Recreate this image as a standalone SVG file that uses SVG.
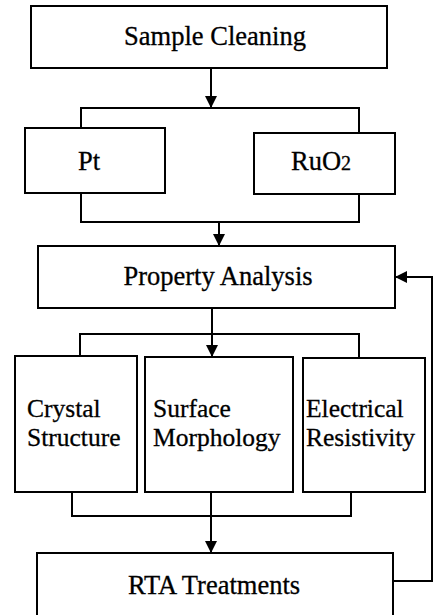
<svg xmlns="http://www.w3.org/2000/svg" width="433" height="615" viewBox="0 0 433 615">
<style>
.box{fill:#fff;stroke:#000;stroke-width:2}
.ln{fill:none;stroke:#000;stroke-width:2}
text{font-family:"Liberation Serif","Times New Roman",serif;font-size:26.5px;fill:#000;stroke:#000;stroke-width:0.3}
.c{text-anchor:middle}
.s{font-size:25.5px}
</style>
<defs>
<marker id="ah" markerUnits="userSpaceOnUse" markerWidth="12" markerHeight="12" refX="12" refY="6" orient="auto">
<path d="M0,0 L12,6 L0,12 z" fill="#000"/>
</marker>
</defs>
<rect x="0" y="0" width="433" height="615" fill="#fff"/>
<g id="connectors">
<path class="ln" d="M211,68 V108" marker-end="url(#ah)"/>
<path class="ln" d="M81,128 V108 H359 V133"/>
<path class="ln" d="M81,193 V222 H359 V194"/>
<path class="ln" d="M219,222 V246" marker-end="url(#ah)"/>
<path class="ln" d="M212,308 V357" marker-end="url(#ah)"/>
<path class="ln" d="M80,356 V334 H359 V358"/>
<path class="ln" d="M72,492 V516 H351 V492"/>
<path class="ln" d="M211,492 V516"/>
<path class="ln" d="M211,516 V553" marker-end="url(#ah)"/>
<path class="ln" d="M393,581 H432 V277 H395" marker-end="url(#ah)"/>
</g>
<g id="sample-cleaning">
<rect class="box" x="31" y="6" width="356" height="62"/>
<text class="c" x="215" y="45">Sample Cleaning</text>
</g>
<g id="pt">
<rect class="box" x="25" y="128" width="140" height="65"/>
<text class="c" x="89" y="170">Pt</text>
</g>
<g id="ruo2">
<rect class="box" x="254" y="133" width="141" height="61"/>
<text class="c" x="321" y="170">RuO<tspan font-size="20">2</tspan></text>
</g>
<g id="property-analysis">
<rect class="box" x="38" y="246" width="357" height="62"/>
<text class="c" x="218" y="285">Property Analysis</text>
</g>
<g id="crystal-structure">
<rect class="box" x="15" y="356" width="122" height="136"/>
<text class="s" x="27" y="417">Crystal</text>
<text class="s" x="27" y="446">Structure</text>
</g>
<g id="surface-morphology">
<rect class="box" x="145" y="357" width="148" height="135"/>
<text class="s" x="153" y="417">Surface</text>
<text class="s" x="153" y="446">Morphology</text>
</g>
<g id="electrical-resistivity">
<rect class="box" x="303" y="358" width="122" height="134"/>
<text class="s" x="306" y="417">Electrical</text>
<text class="s" x="306" y="446">Resistivity</text>
</g>
<g id="rta-treatments">
<rect class="box" x="37" y="553" width="356" height="70"/>
<text class="c" x="214" y="594">RTA Treatments</text>
</g>
</svg>
